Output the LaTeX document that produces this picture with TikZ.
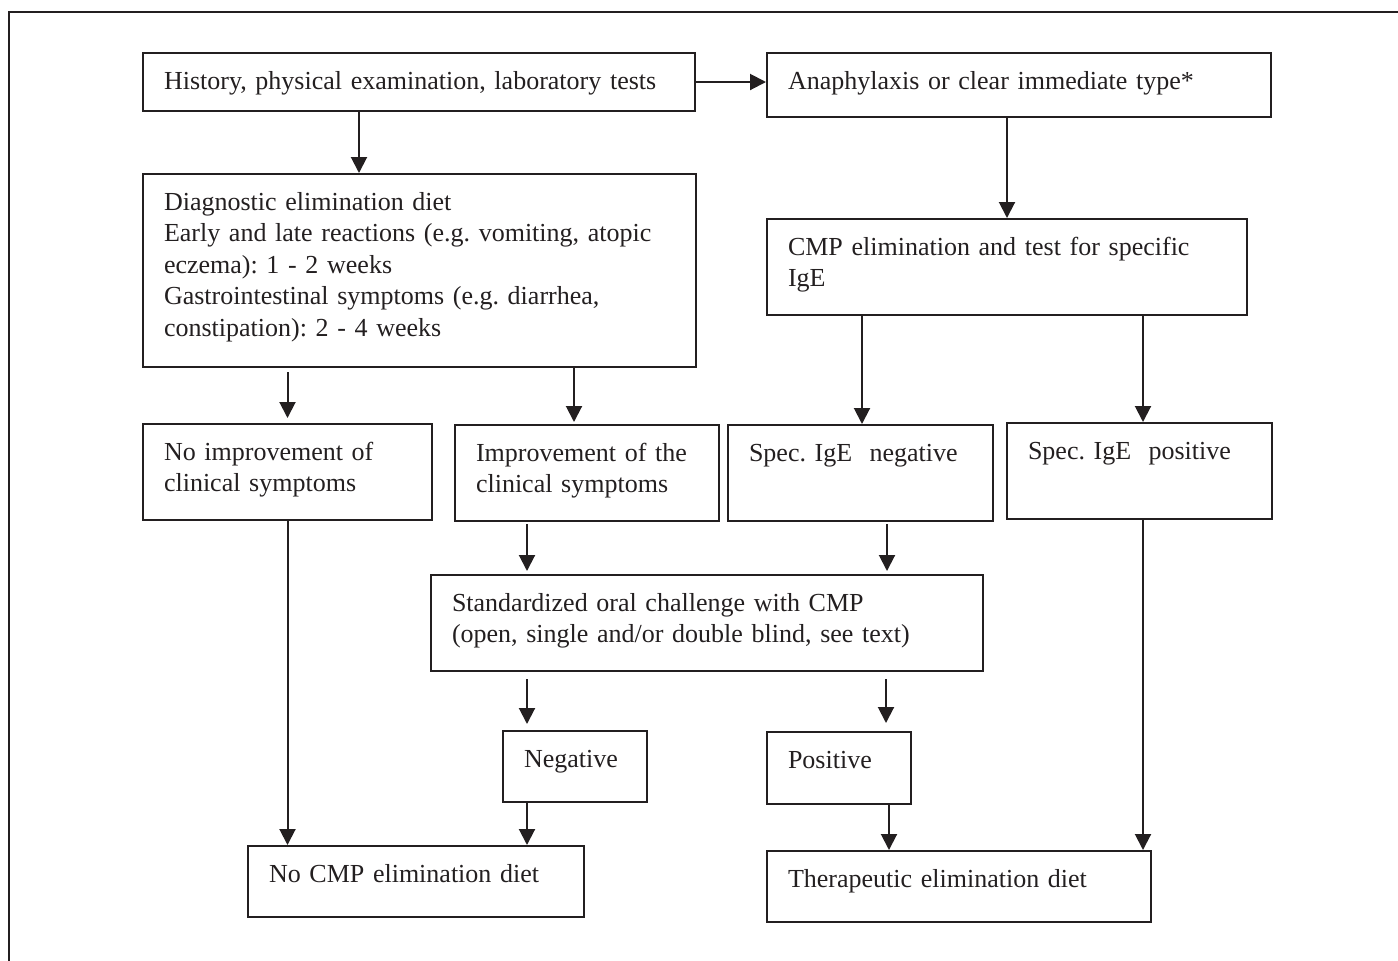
\documentclass[tikz,border=0pt]{standalone}
\usepackage{fontspec}
\setmainfont{Liberation Serif}
\usetikzlibrary{arrows.meta}
\definecolor{ink}{RGB}{35,31,32}

\begin{document}
\frenchspacing
\begin{tikzpicture}[x=0.5pt, y=-0.5pt, line width=1pt, draw=ink, text=ink,
    box/.style={draw, anchor=north west, align=left, inner xsep=10.5pt, inner ysep=0pt,
      text height=18pt, font=\fontsize{13pt}{15.8pt}\selectfont},
    arr/.style={-{Triangle[length=8pt,width=8pt]}}]
    \useasboundingbox (0,0) rectangle (1398,960);
    % Frame
    \draw (9,975) -- (9,12) -- (1415,12);
    % Nodes
    \node[box, text width=255pt, text depth=11pt] (hist) at (142,52) {History, physical examination, laboratory tests};
    \node[box, text width=231pt, text depth=14pt] (ana) at (766,52) {Anaphylaxis or clear immediate type*};
    \node[box, text width=255.5pt, text depth=78.5pt] (diag) at (142,173) {Diagnostic elimination diet\\
      Early and late reactions (e.g. vomiting, atopic\\eczema): 1 - 2 weeks\\
      Gastrointestinal symptoms (e.g. diarrhea,\\constipation): 2 - 4 weeks};
    \node[box, text width=219pt, text depth=30pt] (cmp) at (766,218) {CMP elimination and test for specific\\IgE};
    \node[box, text width=123.5pt, text depth=30pt] (noimp) at (142,423) {No improvement of\\clinical symptoms};
    \node[box, text width=111pt, text depth=30pt] (imp) at (454,424) {Improvement of the\\clinical symptoms};
    \node[box, text width=111.5pt, text depth=30pt] (sneg) at (727,424) {Spec. IgE\ \ negative};
    \node[box, text width=111.5pt, text depth=30pt] (spos) at (1006,422) {Spec. IgE\ \ positive};
    \node[box, text width=255pt, text depth=30pt] (std) at (430,574) {Standardized oral challenge with CMP\\
      (open, single and/or double blind, see text)};
    \node[box, text width=51pt, text depth=17.5pt] (neg) at (502,730) {Negative};
    \node[box, text width=51pt, text depth=18pt] (pos) at (766,731) {Positive};
    \node[box, text width=147pt, text depth=17.5pt] (nocmp) at (247,845) {No CMP elimination diet};
    \node[box, text width=171pt, text depth=17.5pt] (ther) at (766,850) {Therapeutic elimination diet};
    % Arrows
    \draw[arr] (hist.east) -- (hist.east -| ana.west);
    \draw[arr] (hist.south -| 359,0) -- (diag.north -| 359,0);
    \draw[arr] (ana.south -| cmp.north) -- (cmp.north);
    \draw[arr, shorten <=2pt, shorten >=2.5pt] (diag.south -| noimp.north) -- (noimp.north);
    \draw[arr, shorten >=1pt] (diag.south -| 574,0) -- (imp.north -| 574,0);
    \draw[arr] (cmp.south -| 862,0) -- (sneg.north -| 862,0);
    \draw[arr] (cmp.south -| 1143,0) -- (spos.north -| 1143,0);
    \draw[arr] (noimp.south) -- (nocmp.north -| noimp.south);
    \draw[arr, shorten <=1pt, shorten >=1.5pt] (imp.south -| 527,0) -- (std.north -| 527,0);
    \draw[arr, shorten <=1pt, shorten >=1.5pt] (sneg.south -| 887,0) -- (std.north -| 887,0);
    \draw[arr, shorten <=3.5pt, shorten >=3pt] (std.south -| 527,0) -- (neg.north -| 527,0);
    \draw[arr, shorten <=3.5pt, shorten >=4pt] (std.south -| 886,0) -- (pos.north -| 886,0);
    \draw[arr] (neg.south -| 527,0) -- (nocmp.north -| 527,0);
    \draw[arr] (pos.south -| 889,0) -- (ther.north -| 889,0);
    \draw[arr] (spos.south -| 1143,0) -- (ther.north -| 1143,0);
\end{tikzpicture}
\end{document}
